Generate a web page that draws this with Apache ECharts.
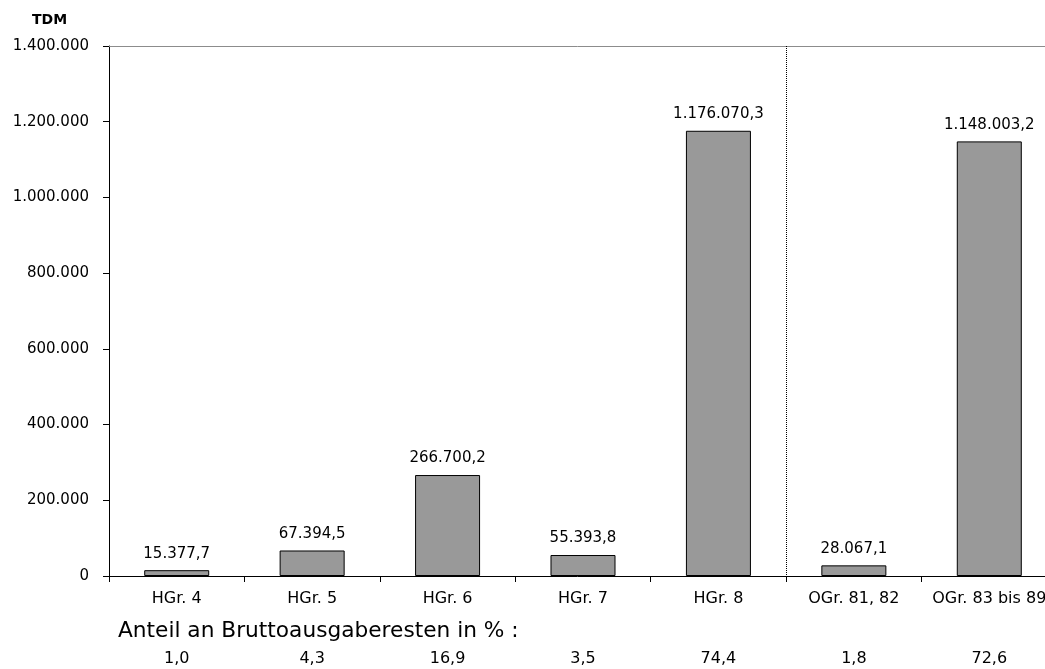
<!DOCTYPE html>
<html>
<head>
<meta charset="utf-8">
<script src="https://cdn.jsdelivr.net/npm/echarts@6/dist/echarts.min.js"></script>
<style>
  html, body { margin: 0; padding: 0; background: #fff; }
  #chart { width: 1045px; height: 669px; }
</style>
</head>
<body>
<div id="chart"></div>
<script>
// Ausgabereste nach Hauptgruppen / Obergruppen (TDM)
const categories = ['HGr. 4', 'HGr. 5', 'HGr. 6', 'HGr. 7', 'HGr. 8', 'OGr. 81, 82', 'OGr. 83 bis 89'];
const values = [15377.7, 67394.5, 266700.2, 55393.8, 1176070.3, 28067.1, 1148003.2];
const shares = ['1,0', '4,3', '16,9', '3,5', '74,4', '1,8', '72,6'];
const yTicks = { min: 0, max: 1400000, step: 200000 };
const unitLabel = 'TDM';
const shareCaption = 'Anteil an Bruttoausgaberesten in % :';
// The dotted separator sits between these two groups
const separatorBetween = ['HGr. 8', 'OGr. 81, 82'];

const FONT = 'DejaVu Sans';

// German number formatting: thousands with '.', decimals with ','
function fmtDe(v, decimals) {
  const fixed = v.toFixed(decimals);
  const parts = fixed.split('.');
  const intPart = parts[0].replace(/\B(?=(\d{3})+(?!\d))/g, '.');
  return parts.length > 1 ? intPart + ',' + parts[1] : intPart;
}

const shareByCat = {};
categories.forEach((c, i) => { shareByCat[c] = shares[i]; });

const chart = echarts.init(document.getElementById('chart'), null, { renderer: 'canvas' });

chart.setOption({
  animation: false,
  backgroundColor: '#ffffff',
  title: {
    text: unitLabel,
    left: 27,
    top: 8,
    textStyle: { fontFamily: FONT, fontSize: 14, fontWeight: 'bold', color: '#000' }
  },
  // the last group runs past the right edge of the canvas
  grid: { left: 109, width: 948, top: 46, bottom: 93, containLabel: false, outerBoundsMode: 'none' },
  xAxis: [{
    type: 'category',
    data: categories,
    position: 'bottom',
    axisLine: { lineStyle: { color: '#000', width: 1 } },
    axisTick: { show: true, alignWithLabel: false, length: 6, lineStyle: { color: '#000' } },
    axisLabel: {
      interval: 0,
      margin: 13,
      color: '#000',
      hideOverlap: false,
      formatter: (v) => '{n|' + v + '}\n{s|}\n{p|' + shareByCat[v] + '}',
      rich: {
        n: { fontFamily: FONT, fontSize: 16, lineHeight: 20, color: '#000' },
        s: { lineHeight: 40 },
        p: { fontFamily: FONT, fontSize: 16, lineHeight: 20, color: '#000' }
      }
    },
    splitLine: { show: false }
  }, {
    type: 'category',
    data: categories,
    position: 'top',
    axisLine: { show: true, lineStyle: { color: '#8c8c8c', width: 1 } },
    axisTick: { show: false },
    axisLabel: { show: false },
    splitLine: { show: false }
  }],
  yAxis: {
    type: 'value',
    min: yTicks.min,
    max: yTicks.max,
    interval: yTicks.step,
    axisLine: { show: true, lineStyle: { color: '#000', width: 1 } },
    axisTick: { show: true, length: 6, lineStyle: { color: '#000' } },
    axisLabel: {
      margin: 20,
      color: '#000',
      fontFamily: FONT,
      fontSize: 15,
      formatter: (v) => fmtDe(v, 0)
    },
    splitLine: { show: false }
  },
  series: [{
    type: 'bar',
    data: values,
    barWidth: '48%',
    itemStyle: { color: '#999999', borderColor: '#000', borderWidth: 1 },
    label: {
      show: true,
      position: 'top',
      distance: 9,
      color: '#000',
      fontFamily: FONT,
      fontSize: 15,
      formatter: (p) => fmtDe(p.value, 1)
    }
  }]
});

// Dotted separator halfway between the two groups, positioned through the axes
const xa = chart.convertToPixel({ xAxisIndex: 0 }, separatorBetween[0]);
const xb = chart.convertToPixel({ xAxisIndex: 0 }, separatorBetween[1]);
const sepX = Math.round((xa + xb) / 2) + 0.5;
const yTop = chart.convertToPixel({ yAxisIndex: 0 }, yTicks.max);
const yBottom = chart.convertToPixel({ yAxisIndex: 0 }, yTicks.min);

chart.setOption({
  graphic: [{
    type: 'line',
    shape: { x1: sepX, y1: yTop, x2: sepX, y2: yBottom + 3 },
    style: { stroke: '#000', lineWidth: 1, lineDash: [1, 1] },
    z: 5
  }, {
    type: 'text',
    left: 118,
    top: 620,
    style: { text: shareCaption, font: '21.7px "DejaVu Sans"', fill: '#000' }
  }]
});
</script>
</body>
</html>
